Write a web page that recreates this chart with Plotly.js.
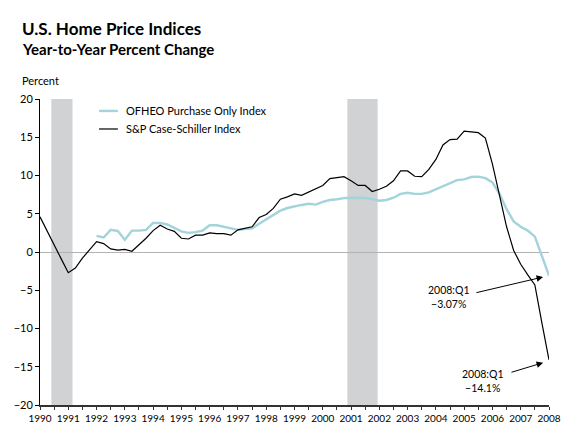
<!DOCTYPE html>
<html>
<head>
<meta charset="utf-8">
<script src="https://cdn.plot.ly/plotly-3.0.1.min.js"></script>
<style>html,body{margin:0;padding:0;background:#fff;}#chart{width:583px;height:445px;}</style>
</head>
<body>
<div id="chart"></div>
<script>
// Quarterly positions (Q1 of year Y drawn at Y)
const spQuarters = [
  1990.0,1990.25,1990.5,1990.75,1991.0,1991.25,1991.5,1991.75,
  1992.0,1992.25,1992.5,1992.75,1993.0,1993.25,1993.5,1993.75,
  1994.0,1994.25,1994.5,1994.75,1995.0,1995.25,1995.5,1995.75,
  1996.0,1996.25,1996.5,1996.75,1997.0,1997.25,1997.5,1997.75,
  1998.0,1998.25,1998.5,1998.75,1999.0,1999.25,1999.5,1999.75,
  2000.0,2000.25,2000.5,2000.75,2001.0,2001.25,2001.5,2001.75,
  2002.0,2002.25,2002.5,2002.75,2003.0,2003.25,2003.5,2003.75,
  2004.0,2004.25,2004.5,2004.75,2005.0,2005.25,2005.5,2005.75,
  2006.0,2006.25,2006.5,2006.75,2007.0,2007.25,2007.5,2007.75,2008.0
];
const spValues = [
  4.6,2.7,0.9,-0.9,-2.7,-2.1,-0.8,0.3,
  1.35,1.1,0.4,0.25,0.35,0.1,0.9,1.8,
  2.8,3.5,3.0,2.7,1.8,1.7,2.2,2.2,
  2.5,2.4,2.4,2.2,2.9,3.1,3.3,4.5,
  4.9,5.7,6.9,7.2,7.6,7.4,7.8,8.3,
  8.7,9.6,9.7,9.85,9.3,8.7,8.7,7.9,
  8.2,8.6,9.3,10.6,10.6,9.9,9.85,10.8,
  12.1,14.0,14.7,14.75,15.8,15.7,15.6,14.9,
  11.5,7.4,3.3,0.2,-1.6,-3.0,-4.3,-9.3,-14.1
];
const ofheoQuarters = [
  1992.0,1992.25,1992.5,1992.75,1993.0,1993.25,1993.5,1993.75,
  1994.0,1994.25,1994.5,1994.75,1995.0,1995.25,1995.5,1995.75,
  1996.0,1996.25,1996.5,1996.75,1997.0,1997.25,1997.5,1997.75,
  1998.0,1998.25,1998.5,1998.75,1999.0,1999.25,1999.5,1999.75,
  2000.0,2000.25,2000.5,2000.75,2001.0,2001.25,2001.5,2001.75,
  2002.0,2002.25,2002.5,2002.75,2003.0,2003.25,2003.5,2003.75,
  2004.0,2004.25,2004.5,2004.75,2005.0,2005.25,2005.5,2005.75,
  2006.0,2006.25,2006.5,2006.75,2007.0,2007.25,2007.5,2007.75,2008.0
];
const ofheoValues = [
  2.1,1.9,2.9,2.75,1.6,2.8,2.8,2.9,
  3.8,3.8,3.6,3.2,2.7,2.5,2.6,2.8,
  3.5,3.5,3.3,3.1,2.9,3.0,3.1,3.7,
  4.3,4.8,5.4,5.75,6.0,6.15,6.3,6.2,
  6.55,6.8,6.9,7.05,7.1,7.1,7.05,6.9,
  6.7,6.8,7.1,7.6,7.75,7.6,7.6,7.8,
  8.2,8.7,9.1,9.4,9.5,9.8,9.85,9.65,
  9.1,7.6,5.6,4.0,3.3,2.8,2.0,-0.4,-3.07
];
const recessions = [[1990.4, 1991.15], [2000.87, 2001.94]];
const yearLabels = ['1990','1991','1992','1993','1994','1995','1996','1997','1998','1999','2000','2001','2002','2003','2004','2005','2006','2007','2008'];
const seriesNames = ['OFHEO Purchase Only Index', 'S&P Case-Schiller Index'];
const seriesColors = ['#a3d3db', '#000000'];

const FONT = 'Lato, "Open Sans", sans-serif';

const tickvals = [], ticktext = [];
yearLabels.forEach((y, i) => {
  tickvals.push(+y); ticktext.push(y);
  if (i < yearLabels.length - 1) { tickvals.push(+y + 0.5); ticktext.push(''); }
});

const traces = [
  {x: ofheoQuarters, y: ofheoValues, type: 'scatter', mode: 'lines', name: seriesNames[0],
   line: {color: seriesColors[0], width: 2.4}, showlegend: false, hoverinfo: 'skip'},
  {x: spQuarters, y: spValues, type: 'scatter', mode: 'lines', name: seriesNames[1],
   line: {color: seriesColors[1], width: 1.2}, showlegend: false, hoverinfo: 'skip'}
];

const shapes = recessions.map(r => ({type: 'rect', xref: 'x', yref: 'y', x0: r[0], x1: r[1], y0: -20, y1: 20,
  fillcolor: '#d1d2d4', line: {width: 0}, layer: 'below'}));
// legend samples
shapes.push({type: 'line', xref: 'paper', yref: 'paper', x0: 0.116, x1: 0.153, y0: 0.961, y1: 0.961, line: {color: seriesColors[0], width: 2.4}});
shapes.push({type: 'line', xref: 'paper', yref: 'paper', x0: 0.116, x1: 0.153, y0: 0.902, y1: 0.902, line: {color: seriesColors[1], width: 1.2}});

const annotations = [
  {xref: 'paper', yref: 'paper', x: -0.039, y: 1.165, xanchor: 'left', yanchor: 'middle', showarrow: false,
   text: '<b>Year-to-Year Percent Change</b>', font: {family: FONT, size: 15, color: '#000'}},
  {xref: 'paper', yref: 'paper', x: -0.039, y: 1.062, xanchor: 'left', yanchor: 'middle', showarrow: false,
   text: 'Percent', font: {family: FONT, size: 11, color: '#000'}},
  {xref: 'paper', yref: 'paper', x: 0.165, y: 0.961, xanchor: 'left', yanchor: 'middle', showarrow: false,
   text: seriesNames[0], font: {family: FONT, size: 11, color: '#000'}},
  {xref: 'paper', yref: 'paper', x: 0.165, y: 0.902, xanchor: 'left', yanchor: 'middle', showarrow: false,
   text: seriesNames[1].replace('&', '&amp;'), font: {family: FONT, size: 11, color: '#000'}},
  // arrows
  {xref: 'x', yref: 'y', axref: 'x', ayref: 'y', x: 2007.79, y: -3.27, ax: 2005.38, ay: -5.36, text: '',
   showarrow: true, arrowhead: 2, arrowsize: 1.3, arrowwidth: 1, arrowcolor: '#000', standoff: 0, startstandoff: 0},
  {xref: 'x', yref: 'y', axref: 'x', ayref: 'y', x: 2007.79, y: -14.47, ax: 2006.62, ay: -15.78, text: '',
   showarrow: true, arrowhead: 2, arrowsize: 1.3, arrowwidth: 1, arrowcolor: '#000', standoff: 0, startstandoff: 0},
  {xref: 'x', yref: 'y', x: 2004.43, y: -5.92, xanchor: 'center', yanchor: 'middle', showarrow: false, align: 'center',
   text: '2008:Q1<br>\u22123.07%', font: {family: FONT, size: 10.5, color: '#000'}},
  {xref: 'x', yref: 'y', x: 2005.66, y: -16.9, xanchor: 'center', yanchor: 'middle', showarrow: false, align: 'center',
   text: '2008:Q1<br>\u221214.1%', font: {family: FONT, size: 10.5, color: '#000'}}
];

const layout = {
  width: 583, height: 445,
  margin: {l: 40, r: 34, t: 99, b: 40, pad: 0},
  paper_bgcolor: '#fff', plot_bgcolor: '#fff',
  font: {family: FONT, size: 10.5, color: '#000'},
  title: {text: '<b>U.S. Home Price Indices</b>', x: 22/583, xref: 'container', xanchor: 'left',
          y: 1 - 29.5/445, yref: 'container', yanchor: 'middle', font: {family: FONT, size: 17, color: '#000'}},
  xaxis: {range: [1990, 2008], tickmode: 'array', tickvals: tickvals, ticktext: ticktext,
          showgrid: false, zeroline: false, showline: true, linecolor: '#333', linewidth: 1.5,
          ticks: 'outside', ticklen: 3, tickwidth: 1, tickcolor: '#333', fixedrange: true,
          tickfont: {family: FONT, size: 10, color: '#000'}, title: {text: ''}},
  yaxis: {range: [-20, 20], tickmode: 'array', tickvals: [-20,-15,-10,-5,0,5,10,15,20],
          showgrid: false, zeroline: true, zerolinecolor: '#b3b3b3', zerolinewidth: 1,
          showline: true, linecolor: '#000', linewidth: 1, ticks: 'outside', ticklen: 4, tickcolor: '#000',
          tickfont: {family: FONT, size: 11, color: '#000'}, fixedrange: true, title: {text: ''}},
  shapes: shapes,
  annotations: annotations,
  showlegend: false
};

Plotly.newPlot('chart', traces, layout, {displayModeBar: false, staticPlot: true});
</script>
</body>
</html>
